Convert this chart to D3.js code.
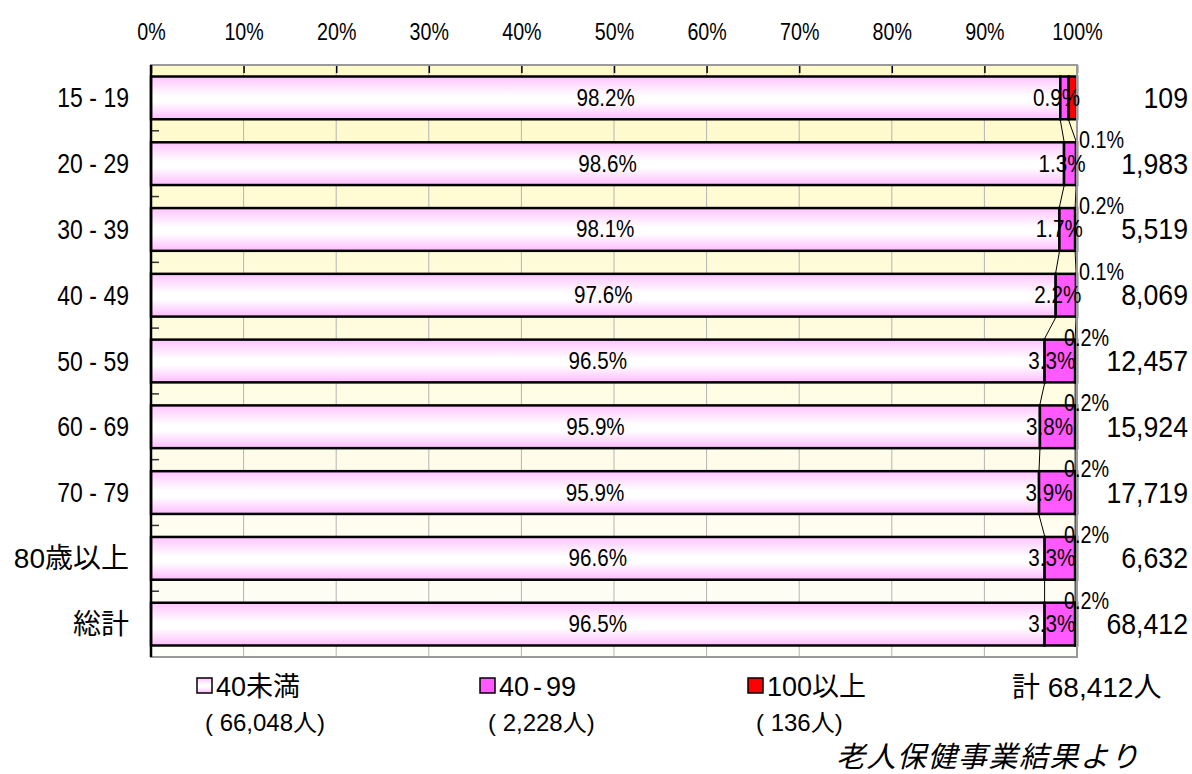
<!DOCTYPE html>
<html>
<head>
<meta charset="utf-8">
<script src="https://cdn.jsdelivr.net/npm/d3@7"></script>
<style>
  body { margin: 0; background: #fff; }
  svg text { fill: #000; }
</style>
</head>
<body>
<svg width="1192" height="774"></svg>
<script>
// data
var categories = ["15-19", "20-29", "30-39", "40-49", "50-59", "60-69", "70-79", "80歳以上", "総計"];
var under40 = [98.2, 98.6, 98.1, 97.6, 96.5, 95.9, 95.9, 96.6, 96.5];
var from40to99 = [0.9, 1.3, 1.7, 2.2, 3.3, 3.8, 3.9, 3.3, 3.3];
var over100 = [0.9, 0.1, 0.2, 0.1, 0.2, 0.2, 0.2, 0.2, 0.2];
var totals = [109, 1983, 5519, 8069, 12457, 15924, 17719, 6632, 68412];
var tickPercents = [0, 10, 20, 30, 40, 50, 60, 70, 80, 90, 100];
var legendNames = ["40未満", "40-99", "100以上"];
var legendCounts = [66048, 2228, 136];
var grandTotal = 68412;
var sourceNote = "老人保健事業結果より";

// the original font has narrow latin glyphs, so latin text gets squeezed
var latin = "'Liberation Sans', Arial, sans-serif";
var regular = "'Liberation Sans', 'Noto Sans CJK JP', sans-serif";
var cjk = "'Noto Sans CJK JP', sans-serif";
var squeeze = 0.82;

var svg = d3.select("svg");
var plot = { left: 151, right: 1077, top: 65, bottom: 657 };

var rows = categories.map(function(c, i) {
  return { cat: c, a: under40[i], b: from40to99[i], c: over100[i] };
});
var series = d3
  .stack()
  .keys(["a", "b", "c"])
  .offset(d3.stackOffsetExpand)(rows);

var x = d3
  .scaleLinear()
  .domain([0, 1])
  .range([plot.left, plot.right]);

var y = d3
  .scaleBand()
  .domain(categories)
  .range([plot.top, plot.bottom])
  .paddingInner(0.35)
  .paddingOuter(0.175);

var bw = y.bandwidth();

function at(px, py, sx) {
  return "translate(" + px + "," + py + ") scale(" + sx + ",1)";
}

// gradients
var defs = svg.append("defs");
var bg = defs
  .append("linearGradient")
  .attr("id", "bgGrad")
  .attr("x1", 0).attr("y1", 0).attr("x2", 0).attr("y2", 1);
bg.append("stop").attr("offset", 0).attr("stop-color", "#fffac8");
bg.append("stop").attr("offset", 1).attr("stop-color", "#fefefa");

var pink = defs
  .append("linearGradient")
  .attr("id", "pinkGrad")
  .attr("x1", 0).attr("y1", 0).attr("x2", 0).attr("y2", 1);
pink.append("stop").attr("offset", 0).attr("stop-color", "#ffc4ff");
pink.append("stop").attr("offset", 0.45).attr("stop-color", "#ffffff");
pink.append("stop").attr("offset", 0.6).attr("stop-color", "#ffffff");
pink.append("stop").attr("offset", 1).attr("stop-color", "#ffbcff");

var fills = ["url(#pinkGrad)", "#ff59ff", "#ff0000"];

// plot background and grid
svg
  .append("rect")
  .attr("x", plot.left)
  .attr("y", plot.top)
  .attr("width", plot.right - plot.left)
  .attr("height", plot.bottom - plot.top)
  .attr("fill", "url(#bgGrad)");

svg
  .append("g")
  .selectAll("line")
  .data(tickPercents.slice(1, -1))
  .enter()
  .append("line")
  .attr("x1", d => x(d / 100))
  .attr("x2", d => x(d / 100))
  .attr("y1", plot.top)
  .attr("y2", plot.bottom)
  .attr("stroke", "#b4b4b4")
  .attr("stroke-width", 1);

// top axis: inward ticks + percent labels
var topAxis = svg
  .append("g")
  .attr("transform", "translate(0," + plot.top + ")")
  .call(
    d3
      .axisTop(x)
      .tickValues(tickPercents.map(d => d / 100))
      .tickSize(-8)
      .tickPadding(25)
      .tickFormat((d, i) => tickPercents[i] + "%")
  );
topAxis.select(".domain").remove();
topAxis.selectAll("line").attr("stroke", "#000").attr("stroke-width", 1.5);
topAxis
  .selectAll("text")
  .attr("transform", "scale(" + squeeze + ",1)")
  .style("font-family", latin)
  .style("font-size", "24px");

// small ticks between categories on the left
var step = y.step();
svg
  .append("g")
  .selectAll("line")
  .data(categories.slice(1))
  .enter()
  .append("line")
  .attr("x1", plot.left)
  .attr("x2", plot.left + 8)
  .attr("y1", d => y(d) - (step - bw) / 2)
  .attr("y2", d => y(d) - (step - bw) / 2)
  .attr("stroke", "#333")
  .attr("stroke-width", 1.5);

// stacked bars
svg
  .append("g")
  .selectAll("g")
  .data(series)
  .enter()
  .append("g")
  .attr("fill", (d, i) => fills[i])
  .selectAll("rect")
  .data(d => d)
  .enter()
  .append("rect")
  .attr("x", d => x(d[0]))
  .attr("y", d => y(d.data.cat))
  .attr("width", d => x(d[1]) - x(d[0]))
  .attr("height", bw)
  .attr("stroke", "#000")
  .attr("stroke-width", 2.5);

// series lines between bars
var links = [];
[0, 1].forEach(function(s) {
  for (var i = 0; i < categories.length - 1; i++) {
    links.push([series[s][i], series[s][i + 1]]);
  }
});
svg
  .append("g")
  .selectAll("line")
  .data(links)
  .enter()
  .append("line")
  .attr("x1", d => x(d[0][1]))
  .attr("y1", d => y(d[0].data.cat) + bw + 1)
  .attr("x2", d => x(d[1][1]))
  .attr("y2", d => y(d[1].data.cat) - 1)
  .attr("stroke", "#000")
  .attr("stroke-width", 1);

// frame
svg
  .append("rect")
  .attr("x", plot.left)
  .attr("y", plot.top)
  .attr("width", plot.right - plot.left)
  .attr("height", plot.bottom - plot.top)
  .attr("fill", "none")
  .attr("stroke", "#9a9a9a")
  .attr("stroke-width", 2);
svg
  .append("line")
  .attr("x1", plot.left)
  .attr("x2", plot.left)
  .attr("y1", plot.top)
  .attr("y2", plot.bottom)
  .attr("stroke", "#000")
  .attr("stroke-width", 2.5);

// percent labels
var pct = d3.format(".1f");
var labels = svg
  .append("g")
  .style("font-family", latin)
  .style("font-size", "24px");

labels
  .selectAll("text.a")
  .data(under40)
  .enter()
  .append("text")
  .attr("text-anchor", "middle")
  .attr("transform", (d, i) =>
    at((x(series[0][i][0]) + x(series[0][i][1])) / 2, y(categories[i]) + bw / 2 + 8, 0.86))
  .text(d => pct(d) + "%");

labels
  .selectAll("text.b")
  .data(from40to99)
  .enter()
  .append("text")
  .attr("text-anchor", "middle")
  .attr("transform", (d, i) =>
    at((x(series[1][i][0]) + x(series[1][i][1])) / 2 - 8, y(categories[i]) + bw / 2 + 8, 0.86))
  .text(d => pct(d) + "%");

// the 100+ labels sit just above the bar end; a wide one hides behind the 40-99 label
var redLabels = over100
  .map((v, i) => ({ v: v, i: i }))
  .filter(d => d.v < 0.5);
labels
  .selectAll("text.c")
  .data(redLabels)
  .enter()
  .append("text")
  .attr("transform", d =>
    at(x(1) + (from40to99[d.i] < 3 ? 2 : -13), y(categories[d.i]) + 6, 0.86))
  .style("font-size", "23px")
  .text(d => pct(d.v) + "%");

// row totals on the right
svg
  .append("g")
  .selectAll("text")
  .data(totals)
  .enter()
  .append("text")
  .attr("text-anchor", "end")
  .attr("transform", (d, i) => at(1188, y(categories[i]) + bw / 2 + 10, 0.92))
  .style("font-family", latin)
  .style("font-size", "29px")
  .text(d => d3.format(",")(d));

// labels with a spaced-out hyphen like the original
function spacedHyphen(sel, str, gap) {
  var parts = str.split("-");
  sel.text(null);
  parts.forEach(function(p, k) {
    if (k > 0) sel.append("tspan").attr("dx", gap).text("-");
    sel.append("tspan").attr("dx", k > 0 ? gap : 0).text(p);
  });
}

var leftAxis = svg
  .append("g")
  .attr("transform", "translate(" + plot.left + ",0)")
  .call(d3.axisLeft(y).tickSize(0).tickPadding(22));
leftAxis.select(".domain").remove();
leftAxis
  .selectAll("text")
  .style("font-family", regular)
  .style("font-size", "28px")
  .attr("dy", "0.34em")
  .each(function(d) {
    var t = d3.select(this);
    if (/^[\x00-\x7f]*$/.test(d)) {
      t.attr("transform", "scale(" + squeeze + ",1)").attr("x", -22 / squeeze);
      spacedHyphen(t, d, 8);
    }
  });

// legend
var legendX = [197, 480, 748];
var legend = svg
  .append("g")
  .selectAll("g")
  .data(legendNames)
  .enter()
  .append("g")
  .attr("transform", (d, i) => "translate(" + legendX[i] + ",678)");

legend
  .append("rect")
  .attr("width", 15)
  .attr("height", 15)
  .attr("fill", (d, i) => fills[i])
  .attr("stroke", "#000")
  .attr("stroke-width", 1.5);

legend
  .append("text")
  .attr("x", 19)
  .attr("y", 18)
  .style("font-family", regular)
  .style("font-size", "27px")
  .each(function(d) {
    spacedHyphen(d3.select(this), d, 4);
  });

legend
  .append("text")
  .attr("x", 8)
  .attr("y", 53)
  .style("font-family", regular)
  .style("font-size", "24px")
  .text((d, i) => "( " + d3.format(",")(legendCounts[i]) + "人)");

svg
  .append("text")
  .attr("x", 1012)
  .attr("y", 697)
  .style("font-family", regular)
  .style("font-size", "28px")
  .text("計 " + d3.format(",")(grandTotal) + "人");

svg
  .append("text")
  .attr("x", 836)
  .attr("y", 767)
  .style("font-family", cjk)
  .style("font-size", "29px")
  .style("font-style", "italic")
  .style("letter-spacing", "1.5px")
  .text(sourceNote);
</script>
</body>
</html>
